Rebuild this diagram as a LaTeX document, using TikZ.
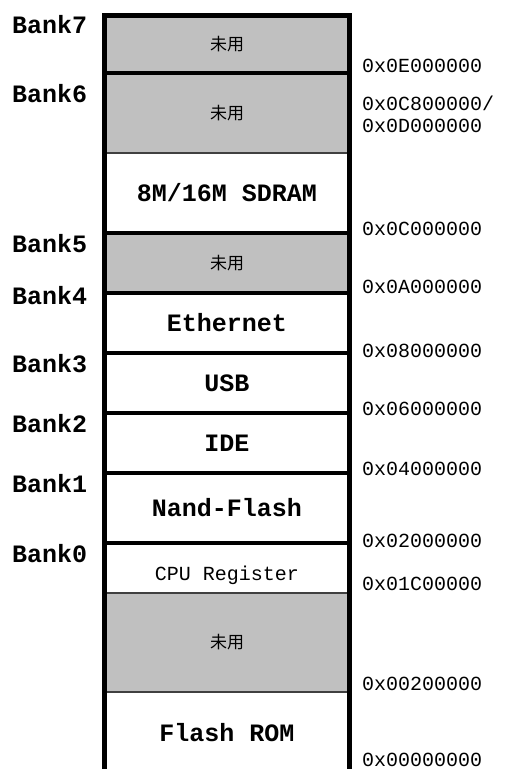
\documentclass[tikz,border=0pt]{standalone}
\usepackage{fontspec}
\setmonofont{Liberation Mono}
\newfontfamily\cjk{Noto Sans CJK SC}
\usepackage{xcolor}
\usepackage{tikz}

\definecolor{unused}{HTML}{C0C0C0}
\definecolor{seam}{HTML}{404040}

\begin{document}
\begin{tikzpicture}[x=1pt,y=-1pt,
	region/.style={draw=seam,line width=1.5pt,minimum width=245pt,inner sep=0pt,outer sep=0pt,
		font=\bfseries\ttfamily\fontsize{25}{25}\selectfont},
	free/.style={region,fill=unused,font=\cjk\fontsize{17}{17}\selectfont},
	bank/.style={anchor=base west,inner sep=0pt,font=\bfseries\ttfamily\fontsize{25}{25}\selectfont},
	addr/.style={anchor=base west,inner sep=0pt,font=\ttfamily\fontsize{20}{20}\selectfont},
	frame/.style={line width=5pt,line join=miter},
	split/.style={line width=3.5pt}]
			
			\useasboundingbox (0,0) rectangle (511,769);
			
			% memory regions, top to bottom
			\node[free,minimum height=58] (r7) at (227,44) {未用};
			\node[free,minimum height=80] (r6a) at (227,113) {未用};
			\node[region,minimum height=80] (r6b) at (227,193) {8M/16M SDRAM};
			\node[free,minimum height=60] (r5) at (227,263) {未用};
			\node[region,minimum height=60] (r4) at (227,323) {Ethernet};
			\node[region,minimum height=60] (r3) at (227,383) {USB};
			\node[region,minimum height=60] (r2) at (227,443) {IDE};
			\node[region,minimum height=70] (r1) at (227,508) {Nand-Flash};
			\node[region,minimum height=50,font=\ttfamily\fontsize{20}{20}\selectfont] (r0a) at (227,568) {\raisebox{-12pt}[0pt][0pt]{CPU Register}};
			\node[free,minimum height=99] (r0b) at (227,642.5) {未用};
			\node[region,minimum height=82] (r0c) at (227,733) {Flash ROM};
			
			\foreach \n in {r7,r6b,r5,r4,r3,r2,r1}
				\draw[split] (\n.south west) -- (\n.south east);
			\draw[frame] (r0c.south west) -- (r7.north west) -- (r7.north east) -- (r0c.south east);
			
			% bank names
			\node[bank] (b7) at (12,33) {Bank7};
			\node[bank] (b6) at (12,102) {Bank6};
			\node[bank] (b5) at (12,252) {Bank5};
			\node[bank] (b4) at (12,304) {Bank4};
			\node[bank] (b3) at (12,372) {Bank3};
			\node[bank] (b2) at (12,432) {Bank2};
			\node[bank] (b1) at (12,492) {Bank1};
			\node[bank] (b0) at (12,562) {Bank0};
			
			% addresses
			\node[addr] (a1) at (362,72) {0x0E000000};
			\node[addr] (a2) at (362,110) {0x0C800000/};
			\node[addr] (a3) at (362,132) {0x0D000000};
			\node[addr] (a4) at (362,235) {0x0C000000};
			\node[addr] (a5) at (362,293) {0x0A000000};
			\node[addr] (a6) at (362,357) {0x08000000};
			\node[addr] (a7) at (362,415) {0x06000000};
			\node[addr] (a8) at (362,475) {0x04000000};
			\node[addr] (a9) at (362,547) {0x02000000};
			\node[addr] (a10) at (362,590) {0x01C00000};
			\node[addr] (a11) at (362,690) {0x00200000};
			\node[addr] (a12) at (362,766) {0x00000000};
			
		\end{tikzpicture}
\end{document}
